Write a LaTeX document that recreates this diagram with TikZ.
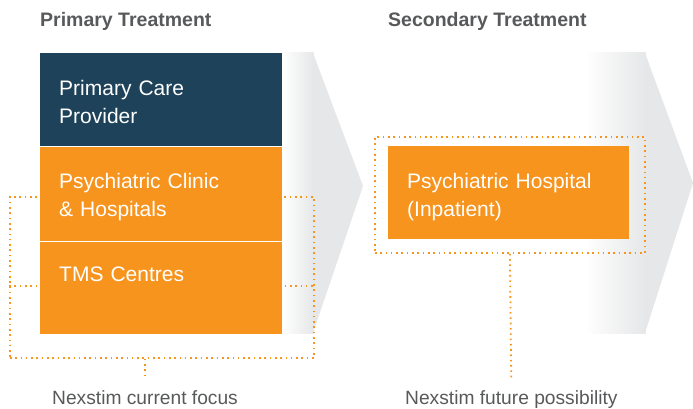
\documentclass[tikz,border=0pt]{standalone}
\usepackage{fontspec}
\setmainfont{Liberation Sans}
\definecolor{navy}{HTML}{1E4259}
\definecolor{nxorange}{HTML}{F7941E}
\definecolor{titlegray}{HTML}{58595B}
\definecolor{chevgray}{HTML}{E6E7E8}
\begin{document}
\begin{tikzpicture}[x=1pt,y=-1pt,
    box/.style={inner sep=0pt,anchor=north west,minimum width=242pt},
    boxtext/.style={inner sep=0pt,anchor=base west,text=white,text width=215pt,align=left,
        font=\fontsize{21}{28}\selectfont},
    heading/.style={inner sep=0pt,anchor=base west,text=titlegray,font=\fontsize{19.5}{23}\selectfont\bfseries},
    caption/.style={inner sep=0pt,anchor=base west,text=titlegray,font=\fontsize{19.2}{23}\selectfont},
    dotline/.style={nxorange,line width=1.8pt,dash pattern=on 1.6pt off 3.7pt}]
    \useasboundingbox (0,0) rectangle (693,409);
    % chevrons
    \shade[left color=white,right color=chevgray] (282,53) rectangle (313.5,333);
    \fill[chevgray] (313,53) -- (363,186) -- (313,333) -- cycle;
    \shade[left color=white,right color=chevgray] (585,53) rectangle (645.5,333);
    \fill[chevgray] (645,53) -- (693,183) -- (645,333) -- cycle;
    % headings and captions
    \node[heading] (primary) at (40,27) {Primary Treatment};
    \node[heading] (secondary) at (388,27) {Secondary Treatment};
    \node[caption] (focus) at (52,404) {Nexstim current focus};
    \node[caption] (future) at (405,404) {Nexstim future possibility};
    % dotted brackets
    \node[dotline,draw,inner sep=0pt,anchor=north west,minimum width=304pt,minimum height=161pt] (focusbox) at (9,196) {};
    \draw[dotline] (focusbox.west |- 0,286) -- (focusbox.east |- 0,286);
    \node[dotline,draw,inner sep=0pt,anchor=north west,minimum width=270pt,minimum height=116pt] (futurebox) at (374,136) {};
    \draw[dotline,shorten >=10pt] (focusbox.south -| focus.north) -- (focus.north);
    \draw[dotline,shorten >=12pt] (futurebox.south) -- (future.north);
    % boxes
    \node[box,fill=navy,minimum height=93pt] (pcp) at (40,53) {};
    \node[box,fill=nxorange,minimum height=95pt] (clinic) at (pcp.south west) {};
    \node[box,fill=nxorange,minimum height=92pt] (tms) at (clinic.south west) {};
    \draw[white,line width=1pt] (clinic.south west) -- (clinic.south east);
    \node[box,fill=nxorange,minimum width=241pt,minimum height=93pt] (hospital) at (388,146) {};
    \node[boxtext] (pcptext) at (59,96) {Primary Care\\Provider};
    \node[boxtext] (clinictext) at (59,188) {Psychiatric Clinic\\\& Hospitals};
    \node[boxtext] (tmstext) at (59,281) {TMS Centres};
    \node[boxtext] (hospitaltext) at (407,188) {Psychiatric Hospital\\(Inpatient)};
\end{tikzpicture}
\end{document}
